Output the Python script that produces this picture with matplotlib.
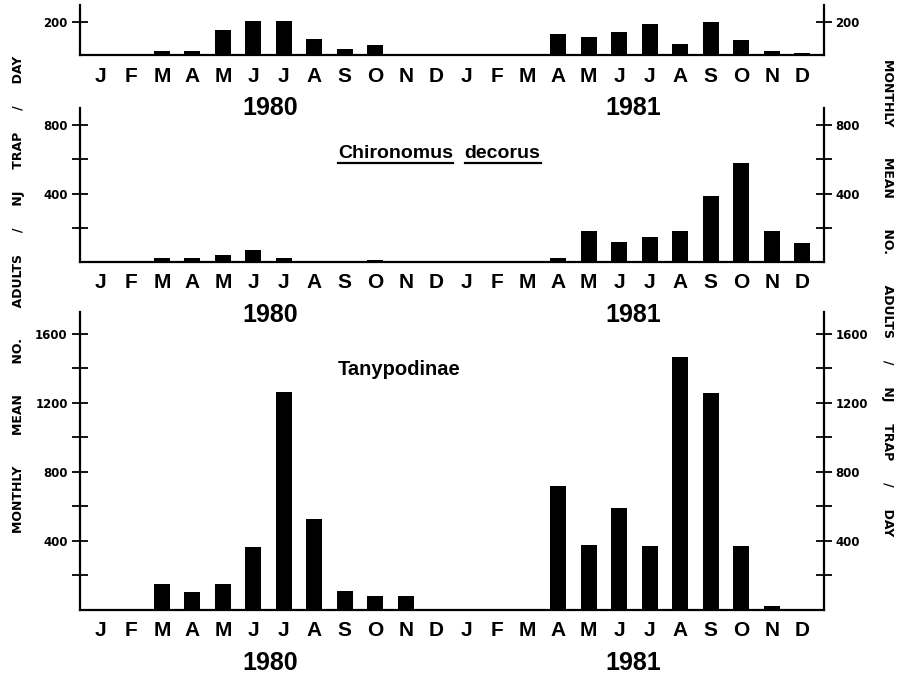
import matplotlib
matplotlib.use('Agg')
import matplotlib.pyplot as plt
from matplotlib.lines import Line2D

months = ['J', 'F', 'M', 'A', 'M', 'J', 'J', 'A', 'S', 'O', 'N', 'D'] * 2
years = ['1980', '1981']
year_pos = [5.55, 17.45]

# monthly mean no. adults / NJ trap / day, Jan 1980 - Dec 1981
top_vals = [0, 0, 28, 26, 148, 202, 206, 100, 40, 60, 10, 0,
            0, 0, 6, 127, 112, 141, 184, 67, 196, 94, 29, 12]
chiro_vals = [6, 4, 21, 25, 43, 72, 23, 8, 6, 12, 0, 0,
              0, 0, 3, 21, 181, 119, 148, 179, 383, 577, 181, 110]
tany_vals = [8, 8, 151, 102, 151, 367, 1264, 528, 112, 82, 80, 3,
             0, 0, 8, 716, 377, 590, 368, 1465, 1255, 371, 21, 6]

ylabel = 'MONTHLY       MEAN       NO.       ADULTS     /     NJ     TRAP     /     DAY'

FONT = 'Liberation Sans'

fig = plt.figure(figsize=(9.07, 6.74), dpi=100)
L, W = 0.0877, 0.8203

panels = [
    # values, [bottom, height], ylim, ticks, labelled ticks
    (top_vals, [0.9177, 0.0749], 299, [200], [200]),
    (chiro_vals, [0.6113, 0.2292], 903, [200, 400, 600, 800], [400, 800]),
    (tany_vals, [0.0950, 0.4421], 1727, list(range(200, 1601, 200)), [400, 800, 1200, 1600]),
]

axes = []
for vals, (b, h), top, ticks, labelled in panels:
    ax = fig.add_axes([L, b, W, h])
    ax.patch.set_visible(False)
    x = list(range(len(vals)))
    ax.bar(x, vals, width=0.52, color='black', linewidth=0)
    ax.set_xlim(-0.70, 23.70)
    ax.set_ylim(0, top)
    ax.spines['top'].set_visible(False)
    for s in ['left', 'right', 'bottom']:
        ax.spines[s].set_linewidth(1.6)
    ax.set_xticks(x, months, fontfamily=FONT, fontweight='bold', fontsize=15)
    ax.tick_params(axis='x', length=0, pad=8)
    ax.set_yticks(ticks, [str(t) if t in labelled else '' for t in ticks],
                  fontweight='bold', fontsize=8.5)
    ax.tick_params(axis='y', direction='inout', length=11, width=1.3,
                   left=True, right=True, labelleft=True, labelright=True, pad=3)
    for xp, yr in zip(year_pos, years):
        ax.annotate(yr, xy=(xp, 0), xycoords=('data', 'axes fraction'),
                    xytext=(0, -53), textcoords='offset pixels',
                    ha='center', va='center', fontsize=18, fontweight='bold',
                    fontfamily=FONT)
    axes.append(ax)

ax_mid, ax_bot = axes[1], axes[2]
t1 = ax_mid.text(7.77, 606, 'Chironomus', fontfamily=FONT, fontweight='bold',
                 fontsize=14, va='baseline', ha='left')
t2 = ax_mid.text(11.93, 606, 'decorus', fontfamily=FONT, fontweight='bold',
                 fontsize=14, va='baseline', ha='left')
ax_bot.text(7.77, 1362, 'Tanypodinae', fontfamily=FONT, fontweight='bold',
            fontsize=14.5, va='baseline', ha='left')

fig.text(0.020, 0.563, ylabel, rotation=90, ha='center', va='center',
         fontsize=9, fontweight='bold')
fig.text(0.978, 0.559, ylabel, rotation=270, ha='center', va='center',
         fontsize=9, fontweight='bold')

# underline the species name word by word
fig.canvas.draw()
renderer = fig.canvas.get_renderer()
inv = fig.transFigure.inverted()
for t in (t1, t2):
    bb = t.get_window_extent(renderer)
    yb = ax_mid.transData.transform((0, 606))[1] - 5
    (x0, y0), (x1, _) = inv.transform([(bb.x0, yb), (bb.x1, yb)])
    fig.add_artist(Line2D([x0, x1], [y0, y0], color='black', linewidth=1.6))

fig.savefig('out.png', dpi=100)
